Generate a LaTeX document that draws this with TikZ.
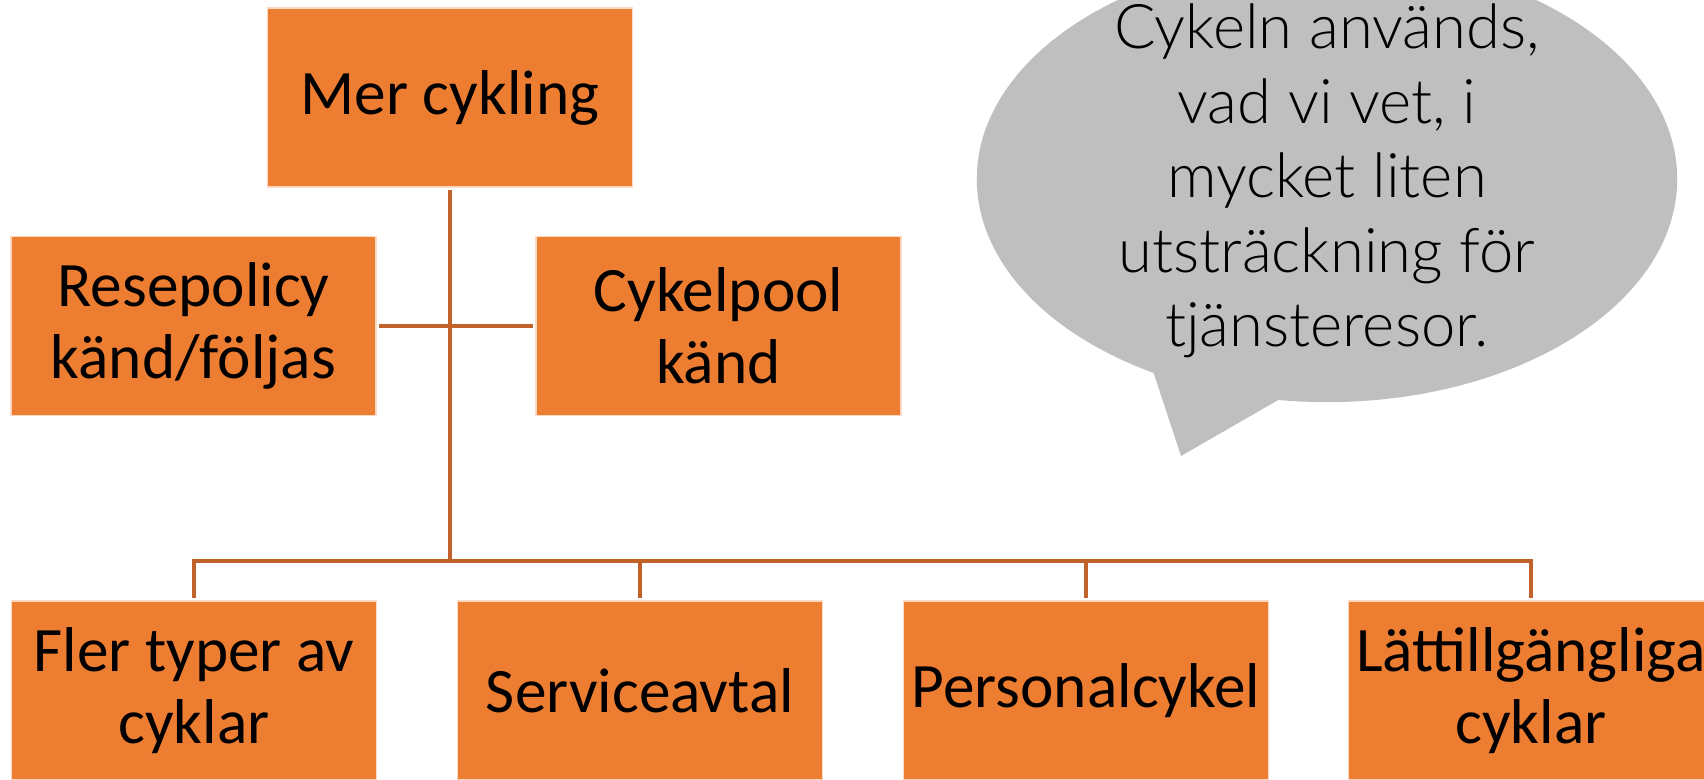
\documentclass[tikz,border=0pt]{standalone}
\usepackage{fontspec}
\setmainfont{Carlito}
\newfontfamily\lightfont{Lato Light}
\definecolor{boxorange}{RGB}{237,125,49}
\definecolor{lineorange}{RGB}{192,98,42}
\definecolor{bubblegray}{RGB}{191,191,191}
\tikzset{
  orgbox/.style={fill=boxorange, draw=white!70!boxorange, line width=0.4pt,
    minimum width=3.65cm, minimum height=1.79cm, align=center, inner sep=0pt,
    outer sep=0.9pt, font=\fontsize{18}{20.5}\selectfont},
  conn/.style={draw=lineorange, line width=1pt},
  bubble/.style={fill=bubblegray},
  bubbletext/.style={align=center, font=\lightfont\fontsize{17.5}{21.2}\selectfont}
}
\begin{document}
\begin{tikzpicture}[x=0.01cm,y=-0.01cm]
\useasboundingbox (0,0) rectangle (1704,779);
\clip (0,0) rectangle (1704,779);
% speech bubble
\fill[bubble] (1327,179) ellipse [x radius=3.5cm, y radius=2.23cm];
\fill[bubble] (1150,362) -- (1181,456) -- (1292,392) -- cycle;
\node[bubbletext] (txt) at (1327,181) {Cykeln används,\\vad vi vet, i\\mycket liten\\utsträckning för\\tjänsteresor.};
% boxes
\node[orgbox] (top) at (450,97.5) {Mer cykling};
\node[orgbox] (reso) at (193.5,326) {Resepolicy\\känd/följas};
\node[orgbox] (pool) at (718.5,326) {Cykelpool\\känd};
\node[orgbox] (b1) at (194,690.5) {Fler typer av\\cyklar};
\node[orgbox] (b2) at (640,690.5) {Serviceavtal};
\node[orgbox] (b3) at (1086,690.5) {Personalcykel};
\node[orgbox] (b4) at (1531,690.5) {Lättillgängliga\\cyklar};
% connectors
\coordinate (bus) at (450,561);
\draw[conn] (top.south) -- (bus);
\draw[conn] (reso.east) -- (pool.west);
\draw[conn] (b1.north) |- (bus) -| (b4.north);
\draw[conn] (b2.north) -- (b2.north |- bus);
\draw[conn] (b3.north) -- (b3.north |- bus);
\end{tikzpicture}
\end{document}
